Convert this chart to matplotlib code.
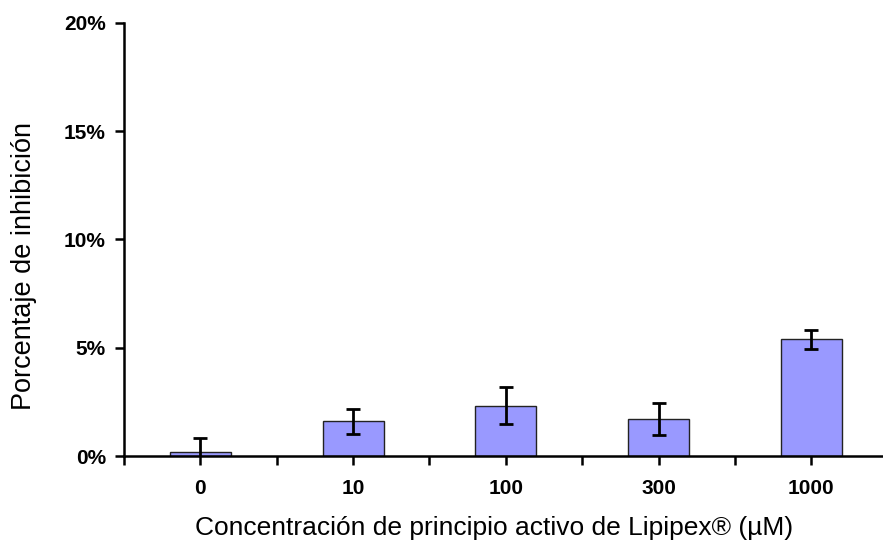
import numpy as np
import matplotlib.pyplot as plt
from matplotlib.ticker import FuncFormatter

plt.rcParams['font.family'] = ['Liberation Sans', 'DejaVu Sans']

# datos
concentraciones = ["0", "10", "100", "300", "1000"]
inhibicion = [0.2, 1.6, 2.33, 1.7, 5.39]   # %
error = [0.65, 0.58, 0.86, 0.75, 0.45]       # %

fig = plt.figure(figsize=(8.83, 5.42), dpi=100)
ax = fig.add_axes([124 / 883, 1 - 456 / 542, 1 - 124 / 883, (456 - 23) / 542])

x = np.arange(len(concentraciones))
ax.bar(x, inhibicion, width=0.4, color="#9999ff", edgecolor="#222222", linewidth=1.0, zorder=2)
ax.errorbar(x, inhibicion, yerr=error, fmt="none", ecolor="black", elinewidth=2,
            capsize=5, capthick=2, zorder=3, clip_on=True)

ax.set_xlim(-0.5, 4.47)
ax.set_ylim(0, 20)
ax.set_yticks([0, 5, 10, 15, 20])
ax.yaxis.set_major_formatter(FuncFormatter(lambda v, p: f"{v:.0f}%"))
ax.set_xticks(x)
ax.set_xticklabels(concentraciones)
ax.set_xticks(np.arange(-0.5, 4.0, 1.0), minor=True)

for s in ["top", "right"]:
    ax.spines[s].set_visible(False)
for s in ["left", "bottom"]:
    ax.spines[s].set_linewidth(1.8)

ax.tick_params(axis="both", which="both", direction="out", length=6.5, width=1.8)
ax.tick_params(axis="x", which="major", pad=10)
ax.tick_params(axis="y", pad=6.5)
for lab in ax.get_xticklabels() + ax.get_yticklabels():
    lab.set_fontsize(15)
    lab.set_fontweight("bold")

fig.text(494 / 883, 1 - 535 / 542, "Concentración de principio activo de Lipipex® (µM)",
         ha="center", va="baseline", fontsize=19)
fig.text(11 / 883, 1 - 266 / 542, "Porcentaje de inhibición", rotation=90,
         ha="left", va="center", fontsize=19.5)

fig.savefig("out.png", dpi=100)
